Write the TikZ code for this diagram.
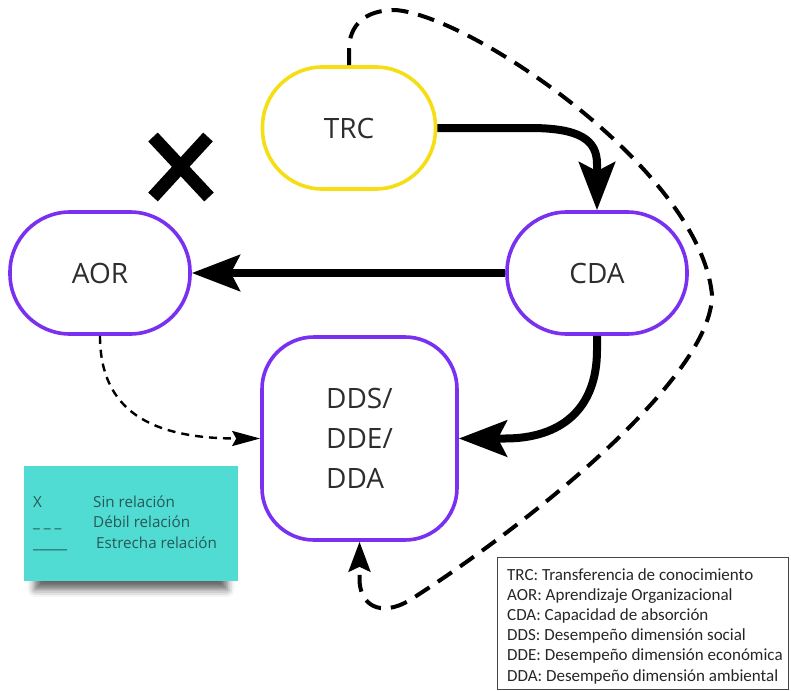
\documentclass[tikz,border=0pt]{standalone}
\usepackage{fontspec}
\setmainfont{Open Sans}
\newfontfamily\keyfont{Carlito}
\usetikzlibrary{arrows.meta,shadows.blur}

\definecolor{ringpurple}{RGB}{122,48,240}
\definecolor{ringyellow}{RGB}{245,222,20}
\definecolor{notecyan}{RGB}{80,220,210}
\definecolor{notetext}{RGB}{40,88,88}
\definecolor{labeltext}{RGB}{45,45,45}
\definecolor{keyframe}{RGB}{70,70,70}

\begin{document}
\begin{tikzpicture}[x=1pt,y=-1pt,
  concept/.style={draw, line width=3.6pt, rounded corners=#1, inner sep=0pt,
    fill=white, text=labeltext, font=\fontsize{28}{40}\selectfont},
  concept/.default=60pt,
  strong/.style={line width=8pt,
    -{Stealth[length=48pt,width=36pt,inset=9pt]}},
  weak/.style={line width=2.4pt, dash pattern=on 8pt off 6pt,
    -{Stealth[length=28pt,width=15pt,inset=4pt]}},
  weaklong/.style={line width=4pt, dash pattern=on 17pt off 10pt,
    -{Stealth[length=30pt,width=22pt,inset=5pt]}},
  notelabel/.style={anchor=base west, inner sep=0pt, text=notetext,
    font=\fontsize{15.2}{18}\selectfont},
  keyline/.style={anchor=base west, inner sep=0pt, text=black!85,
    font=\keyfont\fontsize{17}{20}\selectfont}
]
\useasboundingbox (0,0) rectangle (791,690);

% concept nodes
\node[concept, draw=ringyellow, minimum width=173pt, minimum height=122pt]
  (trc) at (349,128) {TRC};
\node[concept, draw=ringpurple, minimum width=180pt, minimum height=122pt]
  (cda) at (597,273) {CDA};
\node[concept, draw=ringpurple, minimum width=180pt, minimum height=122pt]
  (aor) at (100,273) {AOR};
\node[concept=52pt, draw=ringpurple, minimum width=195pt, minimum height=203pt,
  align=left] (dd) at (359.5,438.5) {DDS/\\DDE/\\DDA};

% no-relation mark above AOR
\draw[line width=13pt] (153,137) -- (209,197);
\draw[line width=13pt] (208,137) -- (153,197);

% strong relations
\draw[strong] (trc.east) -- (530,128)
  .. controls (580,128) and (597,140) .. (597,164) -- (cda.north);
\draw[strong] (cda.west) -- (aor.east);
\draw[strong] (cda.south) -- (597,350)
  .. controls (597,410) and (560,438.5) .. (505,438.5) -- (dd.east);

% weak relations
\draw[weak] (aor.south) .. controls (100,410) and (150,438.5) .. (dd.west);
\draw[weaklong] (trc.north) -- (349,50)
  .. controls (349,25) and (365,10) .. (395,10)
  .. controls (470,15) and (700,170) .. (712,295)
  .. controls (712,380) and (520,530) .. (410,600)
  .. controls (380,618) and (359,605) .. (359.5,578) -- (dd.south);

% legend note with a soft shadow below it
\node[fill=notecyan, minimum width=214pt, minimum height=115pt, inner sep=0pt,
  blur shadow={shadow xshift=0pt, shadow yshift=-16pt, shadow scale=0.9,
    shadow blur radius=8pt, shadow opacity=60}]
  (note) at (131,523.5) {};
\node[notelabel] (nx) at (33,507) {X};
\node[notelabel] (nsin) at (93,507) {Sin relación};
\node[notelabel] (ndash) at (33,527) {\_ \_ \_};
\node[notelabel] (ndeb) at (93,527) {Débil relación};
\node[notelabel] (nline) at (33,548) {\_\_\_\_\_};
\node[notelabel] (nest) at (96,548) {Estrecha relación};

% abbreviation key
\node[draw=keyframe, line width=1pt, anchor=north west, inner sep=0pt,
  minimum width=291pt, minimum height=132pt] (key) at (497,557) {};
\node[keyline] (k1) at (507,580) {TRC: Transferencia de conocimiento};
\node[keyline] (k2) at (507,600.2) {AOR: Aprendizaje Organizacional};
\node[keyline] (k3) at (507,620.4) {CDA: Capacidad de absorción};
\node[keyline] (k4) at (507,640.6) {DDS: Desempeño dimensión social};
\node[keyline] (k5) at (507,660.8) {DDE: Desempeño dimensión económica};
\node[keyline] (k6) at (507,681) {DDA: Desempeño dimensión ambiental};
\end{tikzpicture}
\end{document}
